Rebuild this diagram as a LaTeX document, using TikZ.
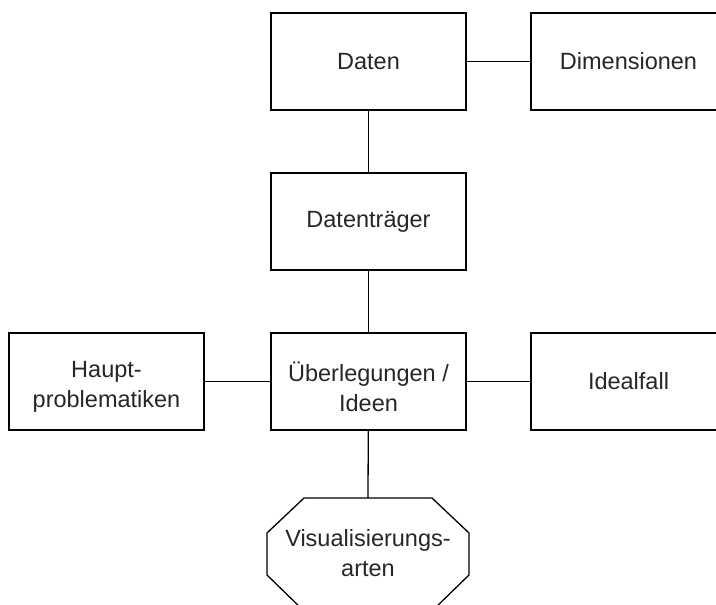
\documentclass[tikz,border=0pt]{standalone}
\usepackage{fontspec}
\setmainfont{Liberation Sans}
\begin{document}
\begin{tikzpicture}[x=1pt,y=-1pt,
  txt/.style={align=center, font=\fontsize{23.5}{30}\selectfont, text=black!85},
  box/.style={draw, line width=1.3pt, minimum width=195pt, minimum height=97pt,
    inner sep=0pt, txt},
  twoline/.style={label={[txt, yshift=-5pt]center:{#1}}},
  link/.style={line width=1.3pt}]
\useasboundingbox (0,0) rectangle (716,605);
\clip (0,0) rectangle (716,605);
% main column
\node[box] (daten) at (368.5,61.5) {Daten};
\node[box] (dim) at (628.5,61.5) {Dimensionen};
\node[box] (traeger) at (368.5,221.5) {Datenträger};
\node[box, twoline={Überlegungen /\\Ideen}] (ideen) at (368.5,381.5) {};
\node[box, twoline={Haupt-\\problematiken}] (haupt) at (106.5,381.5) {};
\node[box] (ideal) at (628.5,381.5) {Idealfall};
% octagon for the kinds of visualisation
\coordinate (vistop) at (368,498);
\draw[line width=1.3pt] (304,498) -- (432,498) -- (469,533) -- (469,575) -- (432,611)
  -- (304,611) -- (267,575) -- (267,533) -- cycle;
\node[txt] (vis) at (368,553) {Visualisierungs-\\arten};
% connectors
\draw[link] (daten) -- (dim);
\draw[link] (daten) -- (traeger);
\draw[link] (traeger) -- (ideen);
\draw[link] (haupt) -- (ideen);
\draw[link] (ideen) -- (ideal);
\draw[link] (ideen) -- (vistop);
\end{tikzpicture}
\end{document}
